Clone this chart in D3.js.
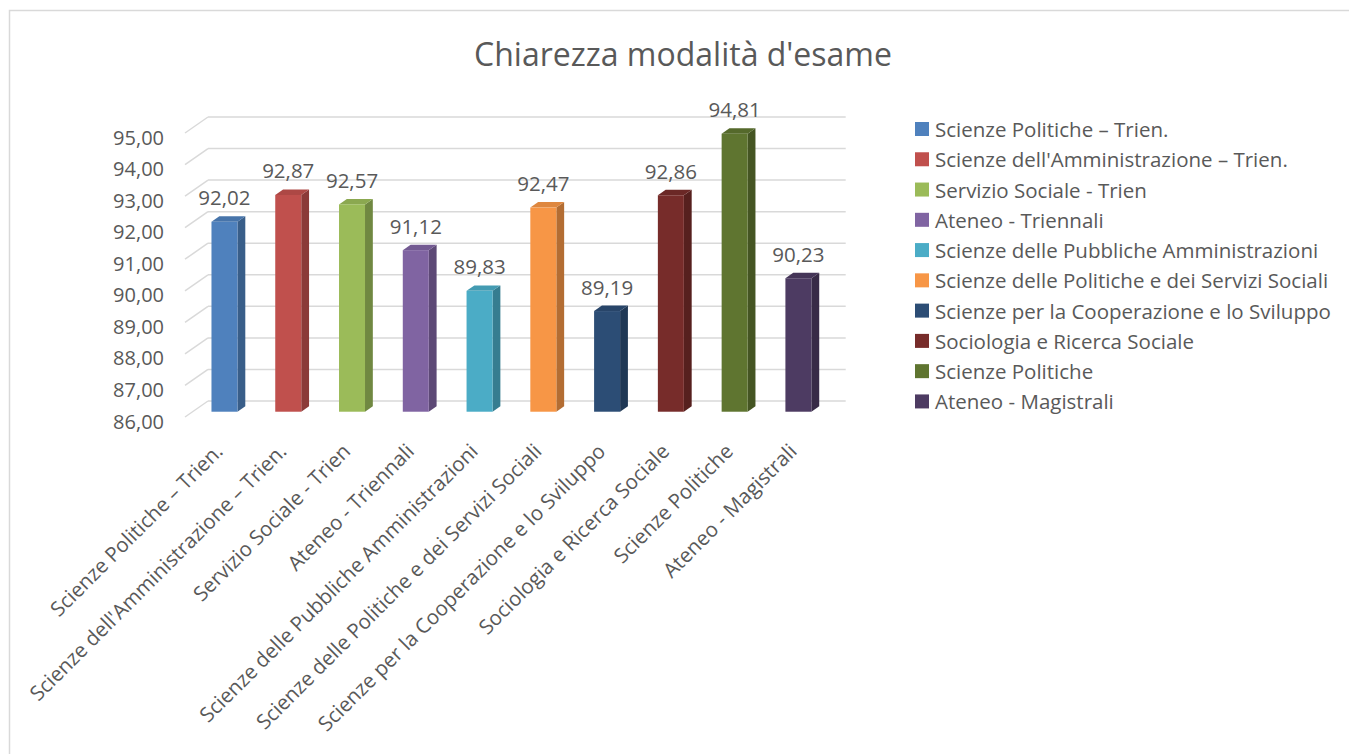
<!DOCTYPE html>
<html>
<head>
<meta charset="utf-8">
<script src="https://cdn.jsdelivr.net/npm/d3@7"></script>
<style>
  body { margin: 0; background: #fff; }
  text { font-family: "Open Sans", Lato, sans-serif; fill: #595959; }
</style>
</head>
<body>
<div class="canvas"></div>
<script>
// data
const categories = [
  'Scienze Politiche – Trien.',
  "Scienze dell'Amministrazione – Trien.",
  'Servizio Sociale - Trien',
  'Ateneo - Triennali',
  'Scienze delle Pubbliche Amministrazioni',
  'Scienze delle Politiche e dei Servizi Sociali',
  'Scienze per la Cooperazione e lo Sviluppo',
  'Sociologia e Ricerca Sociale',
  'Scienze Politiche',
  'Ateneo - Magistrali'
]
const values = [92.02, 92.87, 92.57, 91.12, 89.83, 92.47, 89.19, 92.86, 94.81, 90.23]
const yTicks = [86, 87, 88, 89, 90, 91, 92, 93, 94, 95]
const colours = ['#4F81BD', '#C0504D', '#9BBB59', '#8064A2', '#4BACC6',
  '#F79646', '#2C4D75', '#772C2A', '#5F7530', '#4D3B62']

const fmt = v => v.toFixed(2).replace('.', ',')

const svg = d3.select('.canvas')
  .append('svg')
    .attr('width', 1349)
    .attr('height', 754)

// chart border
svg.append('rect')
  .attr('x', 9.5).attr('y', 10.5)
  .attr('width', 1400).attr('height', 800)
  .attr('fill', 'none')
  .attr('stroke', '#D9D9D9')
  .attr('stroke-width', 1.5)

svg.append('text')
  .attr('x', 683).attr('y', 66)
  .attr('text-anchor', 'middle')
  .attr('font-size', 32)
  .text('Chiarezza modalità d\'esame')

// 3d projection: back wall + depth offset
const depth = {dx: -23, dy: 16}
const zBack = 0.33, zFront = 0.67

const x = d3.scaleBand()
  .domain(categories)
  .range([208, 845.7])

const y = d3.scaleLinear()
  .domain([86, 95])
  .range([401, 117])

const px = (xv, z) => xv + depth.dx * z
const py = (yv, z) => yv + depth.dy * z

// gridlines: back wall line + left side diagonal
const grid = svg.append('g')
grid.selectAll('.back')
  .data(yTicks)
  .enter().append('line')
    .attr('x1', x.range()[0]).attr('x2', x.range()[1])
    .attr('y1', d => y(d)).attr('y2', d => y(d))
    .attr('stroke', '#D9D9D9').attr('stroke-width', 1.5)
grid.selectAll('.side')
  .data(yTicks)
  .enter().append('line')
    .attr('x1', x.range()[0]).attr('y1', d => y(d))
    .attr('x2', px(x.range()[0], 1)).attr('y2', d => py(y(d), 1))
    .attr('stroke', '#D9D9D9').attr('stroke-width', 1.5)

// y labels
svg.append('g').selectAll('text')
  .data(yTicks)
  .enter().append('text')
    .attr('x', 164)
    .attr('y', d => py(y(d), 1) + 4)
    .attr('text-anchor', 'end')
    .attr('dominant-baseline', 'central')
    .attr('font-size', 20)
    .text(fmt)

// bars
const bw = 26
const bars = svg.append('g').selectAll('g')
  .data(values)
  .enter().append('g')

const cx = (d, i) => x(categories[i]) + x.bandwidth() / 2
const pts = (arr) => arr.map(p => p.join(',')).join(' ')

bars.append('polygon') // side
  .attr('points', (d, i) => {
    const r = cx(d, i) + bw / 2
    return pts([
      [px(r, zFront), py(y(d), zFront)],
      [px(r, zBack), py(y(d), zBack)],
      [px(r, zBack), py(y(86), zBack)],
      [px(r, zFront), py(y(86), zFront)]
    ])
  })
  .attr('fill', (d, i) => d3.color(colours[i]).darker(0.9))

bars.append('polygon') // top
  .attr('points', (d, i) => {
    const l = cx(d, i) - bw / 2, r = cx(d, i) + bw / 2
    return pts([
      [px(l, zFront), py(y(d), zFront)],
      [px(r, zFront), py(y(d), zFront)],
      [px(r, zBack), py(y(d), zBack)],
      [px(l, zBack), py(y(d), zBack)]
    ])
  })
  .attr('fill', (d, i) => d3.color(colours[i]).darker(0.3))

bars.append('rect') // front
  .attr('x', (d, i) => px(cx(d, i) - bw / 2, zFront))
  .attr('y', d => py(y(d), zFront))
  .attr('width', bw)
  .attr('height', d => y(86) - y(d))
  .attr('fill', (d, i) => colours[i])

// data labels
bars.append('text')
  .attr('x', (d, i) => px(cx(d, i), zFront))
  .attr('y', d => py(y(d), zBack) - 11)
  .attr('text-anchor', 'middle')
  .attr('font-size', 20.5)
  .text(fmt)

// x labels
svg.append('g').selectAll('text')
  .data(categories)
  .enter().append('text')
    .attr('transform', d => `translate(${px(x(d) + x.bandwidth() / 2, zFront) - 6},447) rotate(-45)`)
    .attr('text-anchor', 'end')
    .attr('dominant-baseline', 'central')
    .attr('font-size', 20.5)
    .text(d => d)

// legend
const legend = svg.append('g')
  .attr('transform', 'translate(915,129)')
const items = legend.selectAll('g')
  .data(categories)
  .enter().append('g')
    .attr('transform', (d, i) => `translate(0,${i * 30.27})`)
items.append('rect')
  .attr('x', 0).attr('y', -7)
  .attr('width', 14).attr('height', 14)
  .attr('fill', (d, i) => colours[i])
items.append('text')
  .attr('x', 20)
  .attr('dominant-baseline', 'central')
  .attr('font-size', 20.5)
  .text(d => d)
</script>
</body>
</html>
